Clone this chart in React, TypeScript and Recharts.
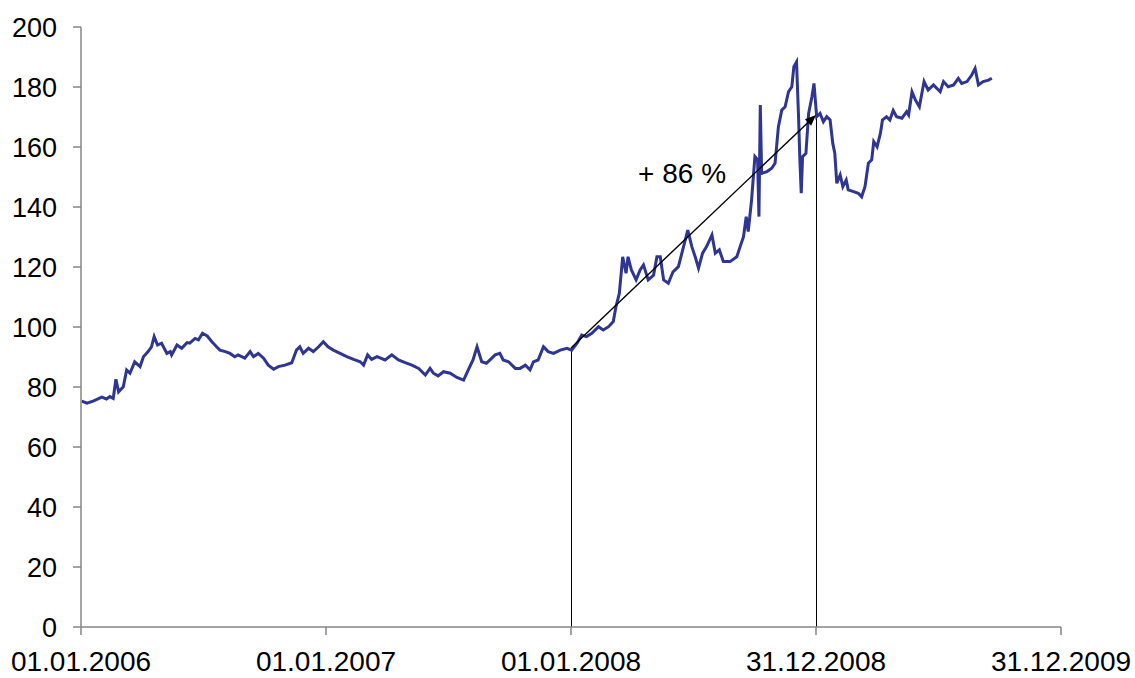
import React from 'react';
import { LineChart, Line, XAxis, YAxis, ReferenceLine, ReferenceDot } from 'recharts';

// days since 01.01.2006
const days = [
  1, 9, 18, 31, 38, 43, 48, 52, 56, 63, 68, 73, 80, 88, 93, 100, 105, 109, 114, 120,
  128, 133, 135, 143, 150, 158, 162, 170, 175, 181, 188, 195, 202, 207, 215, 222, 229, 234, 244, 252,
  257, 264, 272, 279, 287, 294, 304, 314, 321, 326, 331, 339, 346, 354, 361, 368, 376, 386, 396, 406,
  416, 421, 427, 433, 441, 453, 463, 473, 483, 493, 503, 513, 520, 525, 532, 540, 550, 560, 570, 577,
  584, 590, 597, 604, 612, 617, 624, 629, 637, 647, 654, 662, 669, 674, 681, 689, 696, 704, 714, 724,
  731,
  739, 746, 753, 761, 771, 778, 786, 793, 797, 802, 807, 812, 815, 820, 827, 833, 838, 845, 853, 858,
  863, 868, 875, 882, 890, 897, 904, 910, 915, 920, 926, 932, 940, 945, 951, 957, 967, 977, 982, 987,
  991, 994, 999, 1004, 1008, 1010, 1012, 1014, 1022, 1029, 1034, 1039, 1044, 1049, 1054, 1059, 1062, 1066, 1069, 1071,
  1073, 1075, 1080, 1084, 1089, 1092, 1096, 1101, 1106, 1111, 1116, 1120, 1123, 1126, 1131, 1135, 1140, 1143, 1151, 1158,
  1163, 1168, 1173, 1178, 1181, 1186, 1191, 1194, 1200, 1205, 1210, 1215, 1223, 1230, 1233, 1238, 1243, 1249, 1256, 1262,
  1270, 1280, 1285, 1292, 1300, 1307, 1312, 1320, 1327, 1332, 1337, 1344, 1352, 1357,
];

const index = [
  75.3, 74.6, 75.3, 76.6, 76, 76.8, 76.2, 82.6, 78.4, 80.1, 85.7, 84.6, 88.4, 86.8, 90.1, 91.8, 93.4, 96.8, 94, 94.6,
  91.2, 91.8, 90.7, 94, 92.9, 94.8, 94.6, 96.2, 95.7, 97.9, 97, 95.1, 93.4, 92.3, 91.8, 91.2, 90.1, 90.7, 89.6, 91.8,
  90.1, 91.2, 89.6, 87.3, 85.9, 86.8, 87.3, 88.1, 92.3, 93.4, 91.2, 92.9, 91.8, 93.4, 95.1, 93.4, 92.3, 91.2, 90.1, 89.2,
  88.4, 87.3, 90.7, 89.2, 90.1, 89, 90.7, 89, 88.1, 87.3, 86.2, 84, 86.2, 84.6, 83.7, 85.1, 84.6, 83.2, 82.3, 85.7,
  89, 93.4, 88.4, 87.9, 89.6, 90.7, 91.2, 89, 88.4, 86.2, 86.2, 87.3, 85.7, 88.4, 89, 93.4, 91.8, 91.2, 92.3, 92.9,
  92.3,
  94.6, 97.3, 96.8, 97.9, 100.1, 99, 100.1, 101.8, 106.8, 111.2, 123.4, 117.9, 123.4, 119, 115.7, 119, 120.7, 115.7, 117.3, 123.4,
  123.4, 115.7, 114.6, 118.4, 120.1, 126.2, 132.3, 126.8, 123.4, 119.6, 124.6, 126.8, 130.7, 124.6, 125.7, 121.8, 121.8, 123.4, 126.8, 130.1,
  136.8, 131.8, 142.3, 156.8, 155.7, 136.8, 174, 151.2, 151.8, 152.9, 154.6, 166.8, 172.3, 173.4, 178.4, 180.1, 186.8, 188.4, 170.1, 155.7,
  144.6, 156.8, 157.9, 171.2, 176.8, 181.2, 170.1, 171.2, 168.4, 170.1, 169, 161.2, 157.9, 147.9, 150.7, 146.8, 149, 145.7, 145.1, 144.6,
  143.4, 146.8, 154.6, 155.7, 161.8, 160.1, 164.6, 169, 170.1, 169, 172.2, 170.1, 169.6, 171.8, 170.7, 178.4, 175.7, 173.4, 181.8, 179,
  180.7, 178.4, 181.8, 180.1, 180.7, 182.9, 181.2, 181.8, 184, 186.2, 180.7, 181.8, 182.3, 182.9,
];

const xTicks = [0, 365, 730, 1095, 1460];
const xTickLabels = ['01.01.2006', '01.01.2007', '01.01.2008', '31.12.2008', '31.12.2009'];
const yTicks = [0, 20, 40, 60, 80, 100, 120, 140, 160, 180, 200];

// arrow from start of 2008 to end of 2008
const arrowStart = { day: 730, value: 93 };
const arrowEnd = { day: 1095, value: 170.7 };
const arrowLabel = { day: 830, value: 148, text: '+ 86 %' };

const data = days.map((d, i) => ({ day: d, value: index[i] }));

const FONT = '"Liberation Sans", Arial, sans-serif';
const AXIS = '#868686';

const Arrow = (p: any) => {
  const { x1, y1, x2, y2 } = p;
  const ang = Math.atan2(y2 - y1, x2 - x1);
  const len = 11;
  const w = 4.5;
  const bx = x2 - len * Math.cos(ang);
  const by = y2 - len * Math.sin(ang);
  const pts = [
    `${x2},${y2}`,
    `${bx + w * Math.sin(ang)},${by - w * Math.cos(ang)}`,
    `${bx - w * Math.sin(ang)},${by + w * Math.cos(ang)}`,
  ].join(' ');
  return (
    <g>
      <line x1={x1} y1={y1} x2={bx} y2={by} stroke="#000" strokeWidth={1.4} />
      <polygon points={pts} fill="#000" />
    </g>
  );
};

const VLine = (p: any) => (
  <line x1={p.x1 + 0.5} y1={p.y1} x2={p.x2 + 0.5} y2={p.y2} stroke="#000" strokeWidth={1} />
);

export default function App() {
  return (
    <div style={{ position: 'absolute', left: 0, top: 0, background: '#fff' }}>
      <LineChart width={1135} height={678} data={data} margin={{ top: 27, right: 74, left: 0, bottom: 0 }}>
        <XAxis
          type="number"
          dataKey="day"
          domain={[0, 1460]}
          ticks={xTicks}
          tickFormatter={(v: number) => xTickLabels[xTicks.indexOf(v)]}
          height={51}
          stroke={AXIS}
          strokeWidth={1.5}
          tickSize={8}
          tickMargin={16}
          interval={0}
          tick={{ fill: '#000', fontSize: 28, fontFamily: FONT }}
        />
        <YAxis
          type="number"
          domain={[0, 200]}
          ticks={yTicks}
          width={81}
          stroke={AXIS}
          strokeWidth={1.5}
          tickSize={8}
          tickMargin={16}
          interval={0}
          tick={{ fill: '#000', fontSize: 27, fontFamily: FONT }}
        />
        <ReferenceLine
          segment={[{ x: arrowStart.day, y: 0 }, { x: arrowStart.day, y: arrowStart.value }]}
          shape={VLine}
        />
        <ReferenceLine
          segment={[{ x: arrowEnd.day, y: 0 }, { x: arrowEnd.day, y: arrowEnd.value }]}
          shape={VLine}
        />
        <Line
          type="linear"
          dataKey="value"
          stroke="#2E3592"
          strokeWidth={3}
          dot={false}
          isAnimationActive={false}
        />
        <ReferenceLine
          segment={[{ x: arrowStart.day, y: arrowStart.value }, { x: arrowEnd.day, y: arrowEnd.value }]}
          shape={Arrow}
        />
        <ReferenceDot
          x={arrowLabel.day}
          y={arrowLabel.value}
          r={0}
          shape={(p: any) => (
            <text x={p.cx} y={p.cy} fontSize={28} fontFamily={FONT} fill="#000" textAnchor="start">
              {arrowLabel.text}
            </text>
          )}
        />
      </LineChart>
    </div>
  );
}
